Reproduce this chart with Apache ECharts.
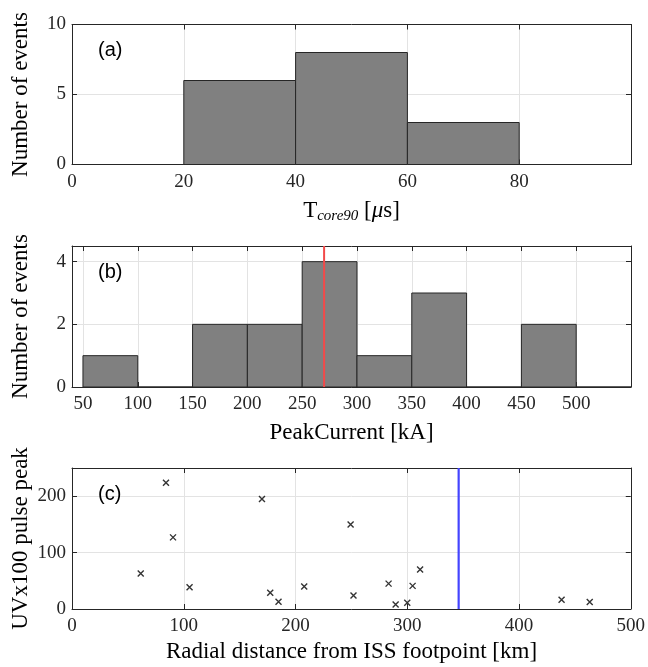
<!DOCTYPE html>
<html>
<head>
<meta charset="utf-8">
<script src="https://cdn.jsdelivr.net/npm/echarts@6/dist/echarts.min.js"></script>
<style>html,body{margin:0;padding:0;background:#fff}#c{width:648px;height:667px}</style>
</head>
<body>
<div id="c"></div>
<script>
// Panel (a): T_core90 histogram
const aEdges = [0, 20, 40, 60, 80, 100];
const aCounts = [0, 6, 8, 3, 0];
const aXTicks = [0, 20, 40, 60, 80];
// Panel (b): PeakCurrent histogram
const bEdges = [50, 100, 150, 200, 250, 300, 350, 400, 450, 500, 550];
const bCounts = [1, 0, 2, 2, 4, 1, 3, 0, 2, 0];
const bXTicks = [50, 100, 150, 200, 250, 300, 350, 400, 450, 500];
const bMarker = 270;
// Panel (c): scatter
const cDist = [61.5, 84.1, 90.4, 105.2, 170, 177.4, 184.8, 207.8, 249.3, 251.9, 283.3, 289.6, 300, 304.8, 311.5, 438.1, 463.3];
const cUV   = [63, 224, 127, 38.5, 195, 29, 13, 40, 150, 24, 45, 8, 11, 41, 70, 16.5, 12.5];
const cYTicks = [0, 100, 200];
const cMarker = 346;

const INK = '#262626';
const SERIF = 'Liberation Serif';

function binData(edges, counts) {
  return counts.map((c, i) => [edges[i], edges[i + 1], c]);
}

function histRender(params, api) {
  const p0 = api.coord([api.value(0), 0]);
  const p1 = api.coord([api.value(1), api.value(2)]);
  return {
    type: 'rect',
    shape: { x: p0[0], y: p1[1], width: p1[0] - p0[0], height: p0[1] - p1[1] },
    style: { fill: '#808080', stroke: INK, lineWidth: 1 }
  };
}

const grids = [
  { left: 72, top: 24.5, width: 559, height: 140 },
  { left: 72, top: 246, width: 559, height: 141 },
  { left: 72, top: 468, width: 559, height: 141 }
];

function mainAxis(gi, pos, min, max, interval, extra) {
  const ax = {
    type: 'value', gridIndex: gi, position: pos, min: min, max: max,
    axisLine: { show: true, onZero: false, lineStyle: { color: INK, width: 1 } },
    axisTick: { show: true, inside: true, length: 5, lineStyle: { color: INK } },
    splitLine: { show: true, lineStyle: { color: '#e3e3e3', width: 1 } },
    axisLabel: { color: INK, fontFamily: SERIF, fontSize: 19, margin: (pos === 'left' ? 6 : 8) }
  };
  if (interval != null) ax.interval = interval;
  return Object.assign(ax, extra || {});
}
function boxAxis(gi, pos, min, max, interval, extra) {
  const ax = {
    type: 'value', gridIndex: gi, position: pos, min: min, max: max,
    axisLine: { show: true, onZero: false, lineStyle: { color: INK, width: 1 } },
    axisTick: { show: true, inside: true, length: 5, lineStyle: { color: INK } },
    splitLine: { show: false },
    axisLabel: { show: false }
  };
  if (interval != null) ax.interval = interval;
  return Object.assign(ax, extra || {});
}

const xAxis = [
  mainAxis(0, 'bottom', 0, 100, 20, { axisLabel: { color: INK, fontFamily: SERIF, fontSize: 19, margin: 8, customValues: aXTicks } }),
  mainAxis(1, 'bottom', 40, 550, null, {
    axisTick: { show: true, inside: true, length: 5, lineStyle: { color: INK }, customValues: bXTicks },
    axisLabel: { color: INK, fontFamily: SERIF, fontSize: 19, margin: 8, customValues: bXTicks }
  }),
  mainAxis(2, 'bottom', 0, 500, 100),
  boxAxis(0, 'top', 0, 100, 20),
  boxAxis(1, 'top', 40, 550, null, { axisTick: { show: true, inside: true, length: 5, lineStyle: { color: INK }, customValues: bXTicks } }),
  boxAxis(2, 'top', 0, 500, 100)
];
const yAxis = [
  mainAxis(0, 'left', 0, 10, 5),
  mainAxis(1, 'left', 0, 4.5, 2),
  mainAxis(2, 'left', 0, 250, 100, { axisLabel: { color: INK, fontFamily: SERIF, fontSize: 19, margin: 6, customValues: cYTicks } }),
  boxAxis(0, 'right', 0, 10, 5),
  boxAxis(1, 'right', 0, 4.5, 2),
  boxAxis(2, 'right', 0, 250, 100)
];

const titleStyle = { fontFamily: SERIF, fontSize: 23, fill: '#000' };
const panelStyle = { fontFamily: 'Liberation Sans', fontSize: 20, fill: '#000' };

const option = {
  animation: false,
  backgroundColor: '#fff',
  grid: grids,
  xAxis: xAxis,
  yAxis: yAxis,
  series: [
    { type: 'custom', xAxisIndex: 0, yAxisIndex: 0, renderItem: histRender, encode: { x: [0, 1], y: 2 }, data: binData(aEdges, aCounts), z: 3 },
    { type: 'custom', xAxisIndex: 1, yAxisIndex: 1, renderItem: histRender, encode: { x: [0, 1], y: 2 }, data: binData(bEdges, bCounts), z: 3 },
    { type: 'line', xAxisIndex: 1, yAxisIndex: 1, data: [[bMarker, 0], [bMarker, 4.5]], showSymbol: false, symbol: 'none',
      lineStyle: { color: '#f24a4a', width: 2 }, z: 5 },
    { type: 'scatter', xAxisIndex: 2, yAxisIndex: 2, data: cDist.map((d, i) => [d, cUV[i]]),
      symbol: 'path://M0,0L10,10M10,0L0,10', symbolSize: 6,
      itemStyle: { color: 'rgba(0,0,0,0)', borderColor: '#000', borderWidth: 1.4 }, z: 5 },
    { type: 'line', xAxisIndex: 2, yAxisIndex: 2, data: [[cMarker, 0], [cMarker, 250]], showSymbol: false, symbol: 'none',
      lineStyle: { color: '#4444ff', width: 2.2 }, z: 5 }
  ],
  graphic: [
    { type: 'text', left: 98, top: 40, style: Object.assign({ text: '(a)' }, panelStyle), z: 10 },
    { type: 'text', left: 98, top: 262, style: Object.assign({ text: '(b)' }, panelStyle), z: 10 },
    { type: 'text', left: 98, top: 484, style: Object.assign({ text: '(c)' }, panelStyle), z: 10 },
    // x-axis titles
    { type: 'text', x: 351.5, y: 211, style: {
        text: '{n|T}{sub|core90}{n| [}{it|μ}{n|s]}', align: 'center', verticalAlign: 'middle',
        rich: {
          n: { fontFamily: SERIF, fontSize: 23, lineHeight: 26, fill: '#000' },
          it: { fontFamily: SERIF, fontStyle: 'italic', fontSize: 23, lineHeight: 26, fill: '#000' },
          sub: { fontFamily: SERIF, fontStyle: 'italic', fontSize: 15, lineHeight: 12, verticalAlign: 'bottom', fill: '#000' }
        } } },
    { type: 'text', x: 351.5, y: 432.5, style: Object.assign({ text: 'PeakCurrent [kA]', align: 'center', verticalAlign: 'middle' }, titleStyle) },
    { type: 'text', x: 351.5, y: 652, style: Object.assign({ text: 'Radial distance from ISS footpoint [km]', align: 'center', verticalAlign: 'middle' }, titleStyle) },
    // y-axis titles
    { type: 'text', x: 21, y: 94.5, rotation: Math.PI / 2, style: Object.assign({ text: 'Number of events', align: 'center', verticalAlign: 'middle' }, titleStyle) },
    { type: 'text', x: 21, y: 316.5, rotation: Math.PI / 2, style: Object.assign({ text: 'Number of events', align: 'center', verticalAlign: 'middle' }, titleStyle) },
    { type: 'text', x: 21, y: 538.5, rotation: Math.PI / 2, style: Object.assign({ text: 'UVx100 pulse peak', align: 'center', verticalAlign: 'middle' }, titleStyle) }
  ]
};

const chart = echarts.init(document.getElementById('c'), null, { renderer: 'canvas' });
chart.setOption(option);
</script>
</body>
</html>
